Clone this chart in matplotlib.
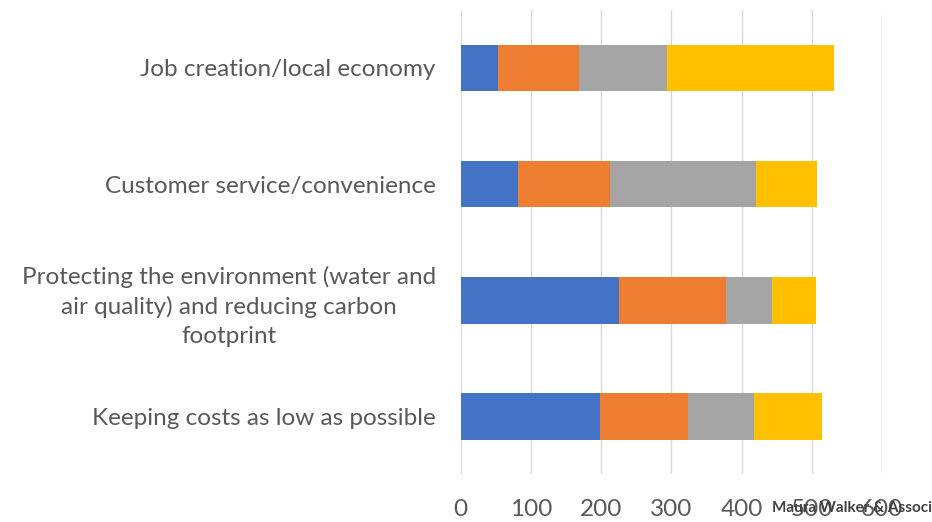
import matplotlib.pyplot as plt

categories = ['Job creation/local economy',
              'Customer service/convenience',
              'Protecting the environment (water and\nair quality) and reducing carbon\nfootprint',
              'Keeping costs as low as possible']
s1 = [53, 81, 226, 198]
s2 = [116, 131, 152, 126]
s3 = [125, 209, 65, 94]
s4 = [237, 87, 63, 97]
colors = ['#4472C4', '#ED7D31', '#A5A5A5', '#FFC000']
xticks = [0, 100, 200, 300, 400, 500, 600]

plt.rcParams['font.family'] = ['Lato', 'DejaVu Sans']

fig = plt.figure(figsize=(9.32, 5.22), dpi=100)
ax = fig.add_axes([0.4943, 0.091, 0.452, 0.890])

y = list(range(len(categories)))
left = [0] * len(categories)
for vals, c in zip([s1, s2, s3, s4], colors):
    ax.barh(y, vals, left=left, height=0.4, color=c, zorder=3)
    left = [a + b for a, b in zip(left, vals)]

ax.set_ylim(3.5, -0.5)
ax.set_xlim(0, 600)
ax.set_xticks(xticks)
ax.set_yticks(y)
ax.set_yticklabels(categories, ha='right', multialignment='center', linespacing=1.45)
for spine in ax.spines.values():
    spine.set_visible(False)
ax.grid(axis='x', color='#d9d9d9', linewidth=1, zorder=0)
ax.tick_params(axis='both', length=0, labelcolor='#595959', labelsize=17.5)
ax.tick_params(axis='x', pad=18)
ax.tick_params(axis='y', pad=18)

# logo text in the lower right corner
fig.text(0.828, 0.027, 'Maura Walker & Associates', fontsize=11, color='#404040',
         ha='left', va='center', zorder=0, fontweight='bold')

fig.savefig('out.png', dpi=100)
